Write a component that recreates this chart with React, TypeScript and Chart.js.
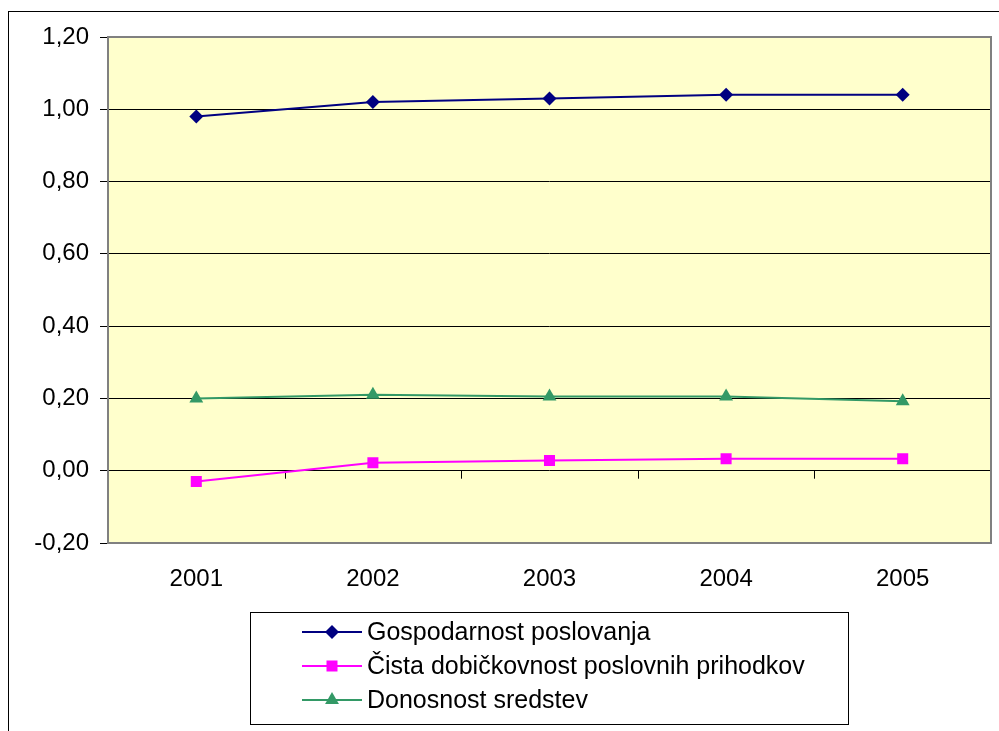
import React, { useEffect, useRef } from "react";
import { Chart, registerables } from "chart.js";

Chart.register(...registerables);

const categories = ["2001", "2002", "2003", "2004", "2005"];
const gospodarnost = [0.98, 1.02, 1.03, 1.04, 1.04];
const cistaDobickovnost = [-0.03, 0.022, 0.028, 0.033, 0.033];
const donosnost = [0.2, 0.21, 0.205, 0.205, 0.192];
const seriesLabels = [
  "Gospodarnost poslovanja",
  "Čista dobičkovnost poslovnih prihodkov",
  "Donosnost sredstev",
];
const yMin = -0.2;
const yMax = 1.2;
const yStep = 0.2;

const FONT = "'Liberation Sans', Arial, sans-serif";
const NAVY = "#000080";
const MAGENTA = "#FF00FF";
const GREEN = "#339966";
const PLOT_BG = "#FFFFCC";

function drawMarker(ctx: CanvasRenderingContext2D, style: string, x: number, y: number, color: string) {
  ctx.save();
  ctx.fillStyle = color;
  ctx.beginPath();
  if (style === "rectRot") {
    const r = 7;
    ctx.moveTo(x, y - r);
    ctx.lineTo(x + r, y);
    ctx.lineTo(x, y + r);
    ctx.lineTo(x - r, y);
  } else if (style === "rect") {
    const s = 5.5;
    ctx.rect(x - s, y - s, 2 * s, 2 * s);
  } else {
    const r = 8;
    ctx.moveTo(x, y - r);
    ctx.lineTo(x + r * 0.866, y + r * 0.5);
    ctx.lineTo(x - r * 0.866, y + r * 0.5);
  }
  ctx.closePath();
  ctx.fill();
  ctx.restore();
}

const decorPlugin = {
  id: "decor",
  beforeDraw(chart: any) {
    const { ctx, chartArea } = chart;
    ctx.save();
    ctx.fillStyle = "#ffffff";
    ctx.fillRect(0, 0, chart.width, chart.height);
    ctx.fillStyle = PLOT_BG;
    ctx.fillRect(chartArea.left, chartArea.top, chartArea.right - chartArea.left, chartArea.bottom - chartArea.top);
    ctx.restore();
  },
  beforeDatasetsDraw(chart: any) {
    const { ctx, chartArea, scales } = chart;
    ctx.save();
    ctx.strokeStyle = "#808080";
    ctx.lineWidth = 2;
    ctx.strokeRect(chartArea.left, chartArea.top, chartArea.right - chartArea.left, chartArea.bottom - chartArea.top);
    const y0 = scales.y.getPixelForValue(0);
    const n = categories.length;
    const w = (chartArea.right - chartArea.left) / n;
    ctx.strokeStyle = "#000000";
    ctx.lineWidth = 1;
    ctx.beginPath();
    for (let i = 1; i < n; i++) {
      const x = Math.round(chartArea.left + i * w) + 0.5;
      ctx.moveTo(x, y0);
      ctx.lineTo(x, y0 + 8);
    }
    ctx.stroke();
    ctx.restore();
  },
  afterDraw(chart: any) {
    const { ctx } = chart;
    ctx.save();
    ctx.strokeStyle = "#000000";
    ctx.lineWidth = 1;
    ctx.strokeRect(8.5, 11.5, 1200, 1000);
    const bx = 250.5, by = 612.5, bw = 598, bh = 112;
    ctx.strokeRect(bx, by, bw, bh);
    const rows = [632, 666, 700];
    chart.data.datasets.forEach((ds: any, i: number) => {
      const y = rows[i];
      ctx.strokeStyle = ds.borderColor;
      ctx.lineWidth = 2;
      ctx.beginPath();
      ctx.moveTo(302, y);
      ctx.lineTo(362, y);
      ctx.stroke();
      drawMarker(ctx, ds.pointStyle, 332, y, ds.borderColor);
      ctx.font = `25px ${FONT}`;
      ctx.textBaseline = "middle";
      ctx.textAlign = "left";
      ctx.fillStyle = "#000000";
      ctx.fillText(ds.label, 367, y + 1);
    });
    ctx.restore();
  },
};

export default function App() {
  const ref = useRef<HTMLCanvasElement>(null);
  useEffect(() => {
    if (!ref.current) return;
    const mk = (label: string, data: number[], color: string, style: string, radius: number) => ({
      label,
      data,
      borderColor: color,
      backgroundColor: color,
      pointBackgroundColor: color,
      pointBorderColor: color,
      pointStyle: style,
      pointRadius: radius,
      pointBorderWidth: 0,
      borderWidth: 2,
      tension: 0,
    });
    const chart = new Chart(ref.current, {
      type: "line",
      data: {
        labels: categories,
        datasets: [
          mk(seriesLabels[0], gospodarnost, NAVY, "rectRot", 7),
          mk(seriesLabels[1], cistaDobickovnost, MAGENTA, "rect", 7.8),
          mk(seriesLabels[2], donosnost, GREEN, "triangle", 8),
        ],
      },
      options: {
        animation: false,
        responsive: false,
        devicePixelRatio: 1,
        layout: { padding: { left: 0, top: 37, right: 5, bottom: 0 } },
        plugins: { legend: { display: false }, tooltip: { enabled: false } },
        scales: {
          x: {
            offset: true,
            grid: { display: false, drawTicks: false },
            border: { display: false },
            ticks: { color: "#000", font: { family: FONT, size: 24 }, padding: 22, maxRotation: 0 },
            afterFit: (s: any) => { s.height = 188; },
          },
          y: {
            min: yMin,
            max: yMax,
            border: { display: false },
            grid: {
              color: (c: any) => {
                const v = c.tick ? c.tick.value : 0;
                return Math.abs(v - yMax) < 1e-6 || Math.abs(v - yMin) < 1e-6 ? "rgba(0,0,0,0)" : "#000000";
              },
              tickColor: "#000000",
              tickLength: 8,
              lineWidth: 1,
            },
            ticks: {
              stepSize: yStep,
              color: "#000",
              font: { family: FONT, size: 24 },
              padding: 11,
              callback: (v: any) => {
                const n = Math.round(Number(v) * 100) / 100;
                return (n === 0 ? 0 : n).toFixed(2).replace(".", ",");
              },
            },
            afterFit: (s: any) => { s.width = 108; },
          },
        },
      },
      plugins: [decorPlugin],
    } as any);
    return () => chart.destroy();
  }, []);
  return (
    <div style={{ position: "fixed", left: 0, top: 0, width: 999, height: 731, background: "#fff" }}>
      <canvas ref={ref} width={999} height={731} style={{ display: "block" }} />
    </div>
  );
}
